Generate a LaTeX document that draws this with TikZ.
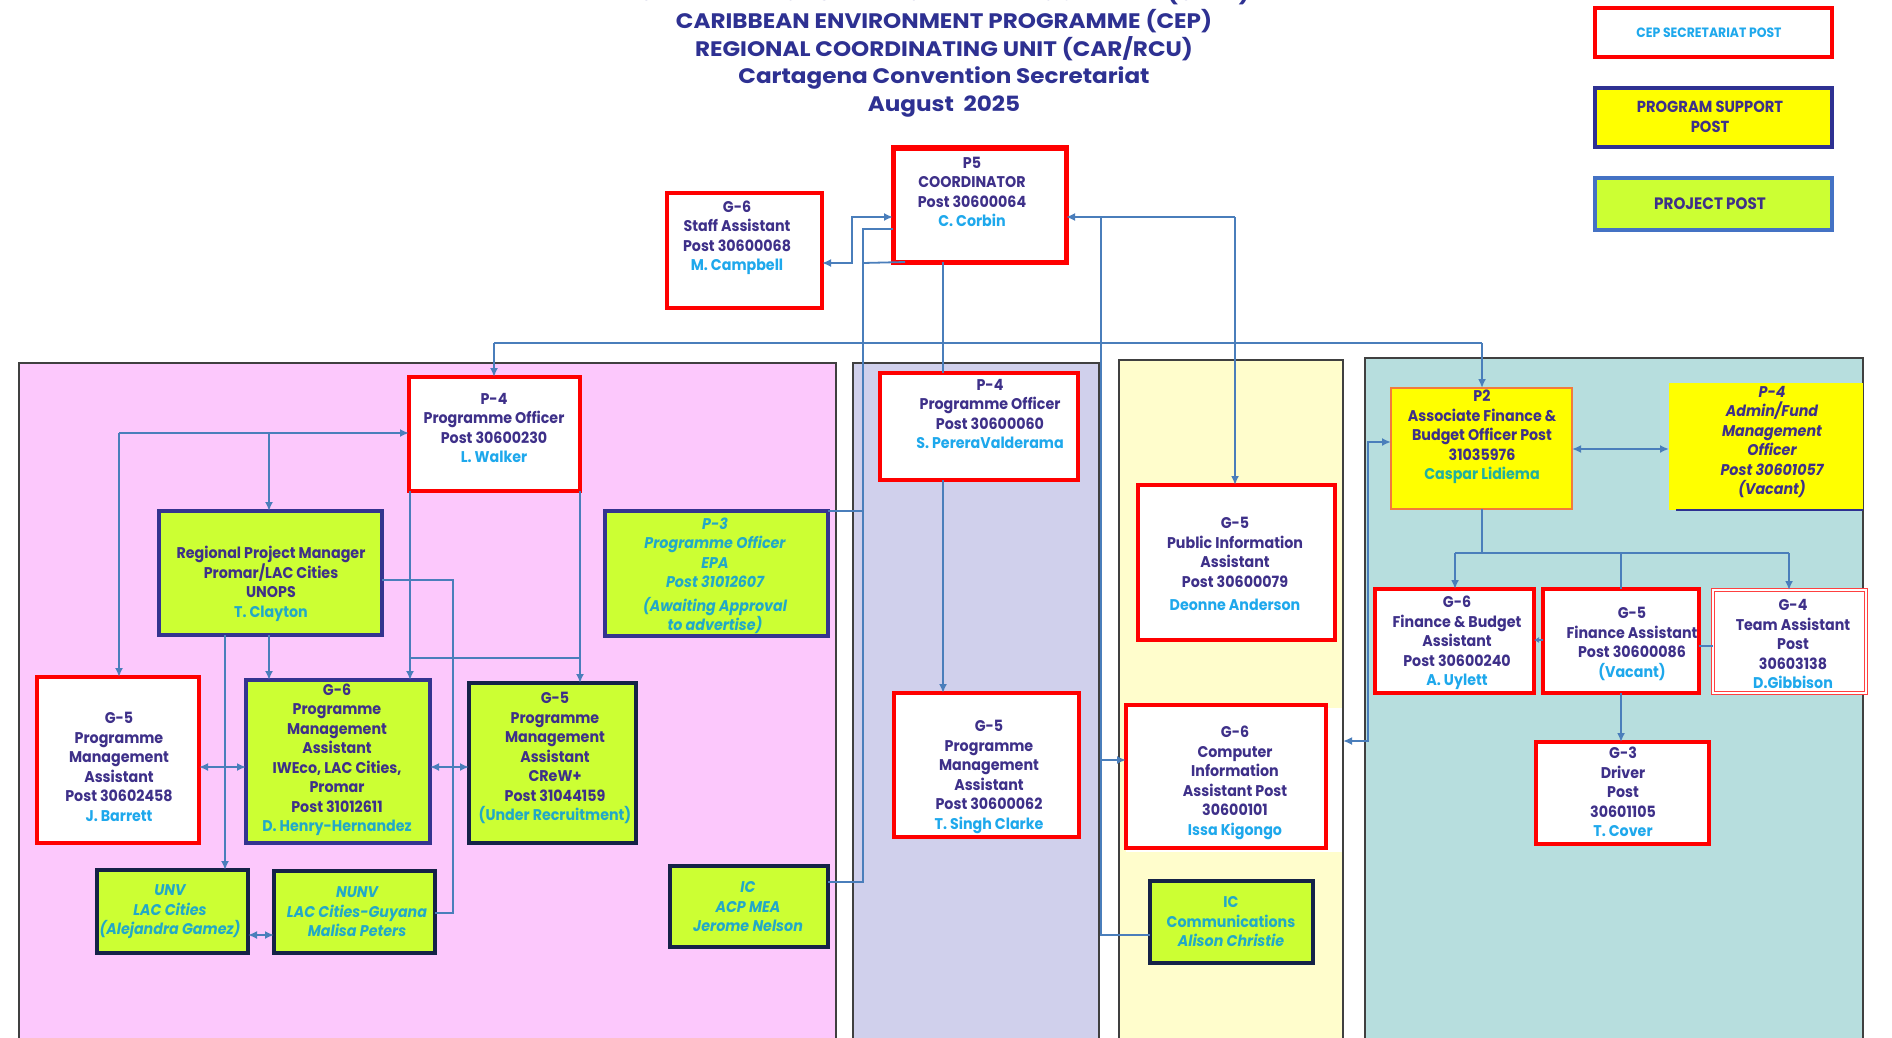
\documentclass[tikz,border=0pt]{standalone}
\usepackage{fontspec}
\setmainfont{Poppins}
\newfontfamily\boxfont{Poppins}[FakeStretch=0.92]
\newfontfamily\titlefont{Poppins}[FakeStretch=1.1]
\usetikzlibrary{arrows.meta,calc}
\definecolor{ink}{HTML}{3E3089}
\definecolor{titleink}{HTML}{2E3192}
\definecolor{nameblue}{HTML}{1EA8EC}
\definecolor{projname}{HTML}{22A8C8}
\definecolor{p2name}{HTML}{20B0A0}
\definecolor{limefill}{HTML}{CCFF33}
\definecolor{projedge}{HTML}{34348F}
\definecolor{projedgeb}{HTML}{152247}
\definecolor{conncol}{HTML}{4A7EBB}
\definecolor{pinkbg}{HTML}{FCC8FC}
\definecolor{lavbg}{HTML}{D0D0EC}
\definecolor{yelbg}{HTML}{FFFDCC}
\definecolor{tealbg}{HTML}{B7DEDE}
\definecolor{panedge}{HTML}{404040}
\definecolor{supfill}{HTML}{FFFF00}
\definecolor{p2edge}{HTML}{F37B3A}
\definecolor{legblue}{HTML}{4472C4}
\newcommand\orgbox[6]{\node[#1,minimum width={(#5-#3)*1pt},minimum height={(#6-#4)*1pt},inner sep=0pt,outer sep=0pt] (#2) at ({(#3+#5)/2},{(#4+#6)/2}) {};}
\newcommand\nmb[1]{\textcolor{nameblue}{#1}}
\newcommand\nmp[1]{\textcolor{projname}{#1}}
\tikzset{
  sec/.style={draw=red,line width=4pt,fill=white},
  secc/.style={draw=red,line width=5pt,fill=white},
  secd/.style={draw=red!75,line width=1pt,double=white,double distance=2.5pt,fill=white},
  proj/.style={draw=projedge,line width=4pt,fill=limefill},
  projb/.style={draw=projedgeb,line width=4pt,fill=limefill},
  supb/.style={fill=supfill,draw=p2edge,line width=1.5pt},
  supn/.style={fill=supfill},
  panel/.style={draw=panedge,line width=1.5pt},
  conn/.style={draw=conncol,line width=1.8pt},
  txt/.style={align=center,inner sep=0pt,text=ink,font=\boxfont\bfseries\fontsize{15.5}{19.5}\selectfont},
  ptxt/.style={align=center,inner sep=0pt,text=projname,font=\boxfont\bfseries\itshape\fontsize{15.5}{19.5}\selectfont},
  itxt/.style={align=center,inner sep=0pt,text=ink,font=\boxfont\bfseries\itshape\fontsize{15.5}{19.5}\selectfont},
  legtxt/.style={align=center,inner sep=0pt,text=ink,font=\boxfont\bfseries\fontsize{16}{19.5}\selectfont},
}
\begin{document}
\begin{tikzpicture}[x=1pt,y=-1pt,>={Latex[length=9pt,width=8pt]}]
\useasboundingbox (0,0) rectangle (1892,1038);
\clip (0,0) rectangle (1892,1038);
\fill[white] (0,0) rectangle (1892,1038);
% panels
\orgbox{panel,fill=pinkbg}{ppink}{19}{363}{836}{1060}
\orgbox{panel,fill=lavbg}{plav}{853}{363}{1099}{1060}
\orgbox{panel,fill=yelbg}{pyel}{1119}{360}{1343}{1060}
\orgbox{panel,fill=tealbg}{pteal}{1365}{358}{1863}{1060}
\fill[white] (1126,708) rectangle (1342,852);
% title
\node[align=center,inner sep=0pt,text=titleink,font=\titlefont\bfseries\fontsize{21}{27.6}\selectfont] (title) at (944,49.5)
 {UNITED NATIONS ENVIRONMENT PROGRAMME (UNEP)\\CARIBBEAN ENVIRONMENT PROGRAMME (CEP)\\REGIONAL COORDINATING UNIT (CAR/RCU)\\Cartagena Convention Secretariat\\August\ \ 2025};
% legend
\orgbox{sec}{legCEP}{1595}{8}{1832}{57}
\orgbox{fill=supfill,draw=titleink,line width=4pt}{legPS}{1595}{88}{1832}{147}
\orgbox{fill=limefill,draw=legblue,line width=4pt}{legPP}{1595}{178}{1832}{230}
\node[legtxt,text=nameblue,font=\boxfont\bfseries\fontsize{13.5}{16}\selectfont] (legCEPT) at (1709,33) {CEP SECRETARIAT POST};
\node[legtxt] (legPST) at (1710,117) {PROGRAM SUPPORT\\POST};
\node[legtxt,font=\boxfont\bfseries\fontsize{16.5}{19.5}\selectfont] (legPPT) at (1710,204) {PROJECT POST};
% boxes
\orgbox{secc}{coord}{893}{148}{1066}{262}
\orgbox{sec}{staff}{667}{193}{822}{308}
\orgbox{sec}{pw}{409}{377}{580}{491}
\orgbox{proj}{rpm}{159}{511}{382}{635}
\orgbox{proj}{pthree}{605}{511}{828}{636}
\orgbox{sec}{bar}{37}{677}{199}{843}
\orgbox{proj}{gsixp}{246}{680}{430}{843}
\orgbox{projb}{gfivec}{469}{683}{636}{843}
\orgbox{projb}{unv}{97}{870}{248}{953}
\orgbox{projb}{nunv}{274}{871}{435}{953}
\orgbox{projb}{icacp}{670}{866}{828}{947}
\orgbox{sec}{lpfour}{880}{373}{1078}{480}
\orgbox{sec}{sc}{894}{693}{1079}{837}
\orgbox{sec}{pia}{1138}{485}{1335}{640}
\orgbox{sec}{cia}{1126}{705}{1326}{848}
\orgbox{projb}{icc}{1150}{881}{1313}{963}
\orgbox{supb}{ptwo}{1391}{388}{1572}{509}
\orgbox{supn}{adm}{1669}{383}{1863}{510}
\draw[draw=titleink,line width=1.5pt] ($(adm.south west)+(7,0)$) -- (adm.south east);
\orgbox{sec}{fb}{1375}{589}{1534}{693}
\orgbox{sec}{fa}{1543}{589}{1699}{693}
\orgbox{secd}{ta}{1713}{590}{1866}{693}
\orgbox{sec}{drv}{1536}{742}{1709}{844}
% helper coordinates
\coordinate (k1) at (852,263);
\coordinate (k2) at (852,217);
\coordinate (v1) at (863,229);
\coordinate (v1b) at (863,882);
\coordinate (v1c) at (863,511);
\coordinate (v1d) at (863,263);
\coordinate (bus) at (943,343);
\coordinate (busL) at (494,343);
\coordinate (busR) at (1482,343);
\coordinate (r1) at (1235,217);
\coordinate (r2) at (1101,217);
\coordinate (r3) at (1101,760);
\coordinate (r4) at (1101,935);
\coordinate (w1) at (119,433);
\coordinate (w2) at (269,433);
\coordinate (q1) at (225,0);
\coordinate (n1) at (453,580);
\coordinate (n2) at (453,913);
\coordinate (m1) at (410,658);
\coordinate (m2) at (580,658);
\coordinate (h1) at (0,767);
\coordinate (h2) at (0,935);
\coordinate (h3) at (0,449);
\coordinate (h4) at (0,640);
\coordinate (h5) at (0,646);
\coordinate (f0) at (1482,553);
\coordinate (f1) at (1455,553);
\coordinate (f2) at (1621,553);
\coordinate (f3) at (1789,553);
\coordinate (t1) at (1368,741);
\coordinate (t2) at (1368,442);
% connectors
\draw[conn,<->] (staff.east |- k1) -- (k1) -- (k2) -- (coord.west |- k2);
\draw[conn] (coord.west |- v1) -- (v1) -- (v1b) -- (icacp.east |- v1b);
\draw[conn] (v1c) -- (pthree.north east);
\draw[conn] (v1d) -- ($(coord.south west)+(12,0)$);
\draw[conn] (bus |- coord.south) -- (bus |- lpfour.north);
\draw[conn] (busL) -- (busR);
\draw[conn,->] (busL) -- (busL |- pw.north);
\draw[conn,->] (busR) -- (busR |- ptwo.north);
\draw[conn,->] (bus |- lpfour.south) -- (bus |- sc.north);
\draw[conn,->] (r1) -- (coord.east |- r1);
\draw[conn,->] (r1) -- (r1 |- pia.north);
\draw[conn] (r2) -- (r4) -- (icc.west |- r4);
\draw[conn,->] (r3) -- (cia.west |- r3);
\draw[conn,->] (w1) -- (pw.west |- w1);
\draw[conn,->] (w1) -- (w1 |- bar.north);
\draw[conn,->] (w2) -- (w2 |- rpm.north);
\draw[conn,->] (q1 |- rpm.south) -- (q1 |- unv.north);
\draw[conn,->] (w2 |- rpm.south) -- (w2 |- gsixp.north);
\draw[conn] (rpm.east |- n1) -- (n1) -- (n2) -- (nunv.east |- n2);
\draw[conn] (m1 |- pw.south) -- (m1) -- (m2) -- (m2 |- pw.south);
\draw[conn,->] (m1) -- (m1 |- gsixp.north);
\draw[conn,->] (m2) -- (m2 |- gfivec.north);
\draw[conn,<->] (bar.east |- h1) -- (gsixp.west |- h1);
\draw[conn,<->] (gsixp.east |- h1) -- (gfivec.west |- h1);
\draw[conn,<->] (unv.east |- h2) -- (nunv.west |- h2);
\draw[conn,<->] (ptwo.east |- h3) -- (adm.west |- h3);
\draw[conn] (f0 |- ptwo.south) -- (f0);
\draw[conn] (f1) -- (f3);
\draw[conn,->] (f1) -- (f1 |- fb.north);
\draw[conn,->] (f3) -- (f3 |- ta.north);
\draw[conn] (f2) -- (f2 |- fa.north);
\draw[conn,->,>={Latex[length=5pt,width=6pt]}] (fa.west |- h4) -- (fb.east |- h4);
\draw[conn] (fa.east |- h5) -- (ta.west |- h5);
\draw[conn,->] (f2 |- fa.south) -- (f2 |- drv.north);
\draw[conn,<->] (pyel.east |- t1) -- (t1) -- (t2) -- (ptwo.west |- t2);
% texts
\node[txt] (coordT) at (972,192) {P5\\COORDINATOR\\Post 30600064\\\nmb{C. Corbin}};
\node[txt] (staffT) at (737,238) {G-6\\Staff Assistant\\Post 30600068\\\nmb{M. Campbell}};
\node[txt] (pwT) at (494,428) {P-4\\Programme Officer\\Post 30600230\\\nmb{L. Walker}};
\node[txt] (rpmT) at (271,584) {Regional Project Manager\\Promar/LAC Cities\\UNOPS\\\nmp{T. Clayton}};
\node[ptxt] (pthreeT) at (715,576) {P-3\\Programme Officer\\EPA\\Post 31012607\\[4pt](Awaiting Approval\\to advertise)};
\node[txt] (barT) at (119,767) {G-5\\Programme\\Management\\Assistant\\Post 30602458\\\nmb{J. Barrett}};
\node[txt] (gsixpT) at (337,760) {G-6\\Programme\\Management\\Assistant\\IWEco, LAC Cities,\\Promar\\Post 31012611\\\nmp{D. Henry-Hernandez}};
\node[txt] (gfivecT) at (555,758) {G-5\\Programme\\Management\\Assistant\\CReW+\\Post 31044159\\\nmp{(Under Recruitment)}};
\node[ptxt] (unvT) at (170,912) {UNV\\LAC Cities\\(Alejandra Gamez)};
\node[ptxt] (nunvT) at (357,912) {NUNV\\LAC Cities-Guyana\\Malisa Peters};
\node[ptxt] (icacpT) at (748,907) {IC\\ACP MEA\\Jerome Nelson};
\node[txt] (lpfourT) at (990,414) {P-4\\Programme Officer\\Post 30600060\\\nmb{S. PereraValderama}};
\node[txt] (scT) at (989,777) {G-5\\Programme\\Management\\Assistant\\Post 30600062\\\nmb{T. Singh Clarke}};
\node[txt] (piaT) at (1235,564) {G-5\\Public Information\\Assistant\\Post 30600079\\[4pt]\nmb{Deonne Anderson}};
\node[txt] (ciaT) at (1235,783) {G-6\\Computer\\Information\\Assistant Post\\30600101\\\nmb{Issa Kigongo}};
\node[txt,text=projname] (iccT) at (1231,922) {IC\\Communications\\\textit{Alison Christie}};
\node[txt] (ptwoT) at (1482,437) {P2\\Associate Finance \&\\Budget Officer Post\\31035976\\\textcolor{p2name}{Caspar Lidiema}};
\node[itxt] (admT) at (1772,442) {P-4\\Admin/Fund\\Management\\Officer\\Post 30601057\\(Vacant)};
\node[txt] (fbT) at (1457,643) {G-6\\Finance \& Budget\\Assistant\\Post 30600240\\\nmb{A. Uylett}};
\node[txt] (faT) at (1632,644) {G-5\\Finance Assistant\\Post 30600086\\\nmb{(Vacant)}};
\node[txt] (taT) at (1793,644) {G-4\\Team Assistant\\Post\\30603138\\\nmb{D.Gibbison}};
\node[txt] (drvT) at (1623,792) {G-3\\Driver\\Post\\30601105\\\nmb{T. Cover}};
\end{tikzpicture}
\end{document}
